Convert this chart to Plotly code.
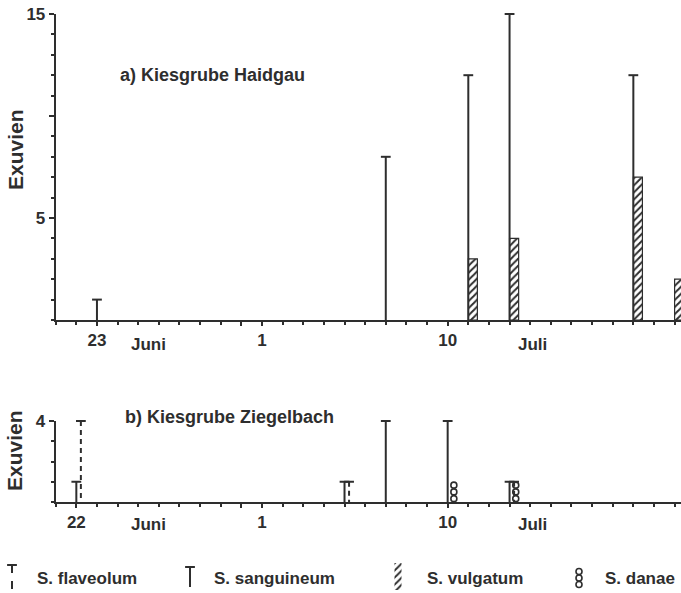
import plotly.graph_objects as go
import pandas as pd

# ---------------- data ----------------
# a) Kiesgrube Haidgau
a_sanguineum_dates = ["06-23", "07-07", "07-11", "07-13", "07-19"]
a_sanguineum_counts = [1, 8, 12, 15, 12]
a_vulgatum_dates = ["07-11", "07-13", "07-19", "07-21"]
a_vulgatum_counts = [3, 4, 7, 2]

# b) Kiesgrube Ziegelbach
b_sanguineum_dates = ["06-22", "07-05", "07-07", "07-10", "07-13"]
b_sanguineum_counts = [1, 1, 4, 4, 1]
b_flaveolum_dates = ["06-22", "07-05", "07-13"]
b_flaveolum_counts = [4, 1, 1]
b_danae_dates = ["07-10", "07-13"]
b_danae_counts = [1, 1]

species_labels = ["S. flaveolum", "S. sanguineum", "S. vulgatum", "S. danae"]
panel_titles = ["a) Kiesgrube Haidgau", "b) Kiesgrube Ziegelbach"]
y_title = "Exuvien"
month_labels = ["Juni", "Juli"]
month_label_dates = ["06-25.5", "07-14.1"]

a_xtick_dates = ["06-23", "06-30", "07-01", "07-10"]
a_xtick_text = ["23", "", "1", "10"]
b_xtick_dates = ["06-22", "06-30", "07-01", "07-10"]
b_xtick_text = ["22", "", "1", "10"]
a_ytick_vals = [5, 10, 15]
a_ytick_text = ["5", "", "15"]
b_ytick_vals = [4]
b_ytick_text = ["4"]

# ---------------- styling / layout constants ----------------
INK = "#2e2e2e"
FONT = "Liberation Sans, Arial, sans-serif"
W, H = 681, 593
TOP = 14
PLOT_H = H - TOP
X_LEFT_PX = 55.7
X_RANGE = [-10, 20.31]
FLAV_OFFSET = 0.22
DANAE_OFFSET = 0.3
BAR_W = 0.44
CIRCLES_PER_UNIT = 3


def day(s):
    m, d = s.split("-")
    return (pd.Timestamp(2000, int(m), 1) - pd.Timestamp(2000, 7, 1)).days + float(d) - 1


def fy(px):
    return (H - px) / PLOT_H


fig = go.Figure()


def stems(dates, counts, offset, dash, xa, ya):
    xs, ys = [], []
    for dt, c in zip(dates, counts):
        x = day(dt) + offset
        xs += [x, x, None]
        ys += [c, 0, None]
    fig.add_trace(go.Scatter(x=xs, y=ys, mode="lines", xaxis=xa, yaxis=ya,
                             line=dict(color=INK, width=2, dash=dash),
                             showlegend=False, hoverinfo="skip", cliponaxis=False))
    fig.add_trace(go.Scatter(x=[day(d) + offset for d in dates], y=counts, mode="markers",
                             xaxis=xa, yaxis=ya,
                             marker=dict(symbol="line-ew", size=7, color=INK,
                                         line=dict(color=INK, width=2)),
                             showlegend=False, hoverinfo="skip", cliponaxis=False))


def hatched(dates, counts, xa, ya):
    fig.add_trace(go.Bar(x=[day(d) + BAR_W / 2 for d in dates], y=counts, width=BAR_W,
                         xaxis=xa, yaxis=ya,
                         marker=dict(color="white", line=dict(color=INK, width=1.2),
                                     pattern=dict(shape="/", fgcolor=INK, bgcolor="white",
                                                  size=5, solidity=0.4)),
                         showlegend=False, hoverinfo="skip"))


def circles(dates, counts, offset, xa, ya):
    xs, ys = [], []
    for dt, c in zip(dates, counts):
        n = int(round(c * CIRCLES_PER_UNIT))
        for k in range(n):
            xs.append(day(dt) + offset)
            ys.append((k + 0.5) / CIRCLES_PER_UNIT)
    fig.add_trace(go.Scatter(x=xs, y=ys, mode="markers", xaxis=xa, yaxis=ya,
                             marker=dict(symbol="circle-open", size=6, color=INK,
                                         line=dict(color=INK, width=1.6)),
                             showlegend=False, hoverinfo="skip", cliponaxis=False))


# panel a
hatched(a_vulgatum_dates, a_vulgatum_counts, "x", "y")
stems(a_sanguineum_dates, a_sanguineum_counts, 0, "solid", "x", "y")
# panel b
stems(b_sanguineum_dates, b_sanguineum_counts, 0, "solid", "x2", "y2")
stems(b_flaveolum_dates, b_flaveolum_counts, FLAV_OFFSET, "5px,4px", "x2", "y2")
circles(b_danae_dates, b_danae_counts, DANAE_OFFSET, "x2", "y2")

# ---------------- legend (own small panel, pixel units) ----------------
LEG = dict(flav_x=12, sang_x=190, vulg_x=398, danae_x=579,
           text_x=[35, 212, 425, 603], text_y=15)
fig.add_trace(go.Scatter(x=[LEG["flav_x"]] * 2, y=[28, 3], mode="lines", xaxis="x3", yaxis="y3",
                         line=dict(color=INK, width=2, dash="8px,8px"),
                         showlegend=False, hoverinfo="skip", cliponaxis=False))
fig.add_trace(go.Scatter(x=[LEG["sang_x"]] * 2, y=[26, 6], mode="lines", xaxis="x3", yaxis="y3",
                         line=dict(color=INK, width=2),
                         showlegend=False, hoverinfo="skip", cliponaxis=False))
fig.add_trace(go.Scatter(x=[LEG["flav_x"], LEG["sang_x"]], y=[28, 26], mode="markers",
                         xaxis="x3", yaxis="y3",
                         marker=dict(symbol="line-ew", size=7, color=INK, line=dict(color=INK, width=2)),
                         showlegend=False, hoverinfo="skip", cliponaxis=False))
fig.add_trace(go.Bar(x=[LEG["vulg_x"]], y=[27], base=[3], width=7, xaxis="x3", yaxis="y3",
                     marker=dict(color="white", line=dict(color=INK, width=0),
                                 pattern=dict(shape="/", fgcolor=INK, bgcolor="white",
                                              size=5, solidity=0.4)),
                     showlegend=False, hoverinfo="skip"))
fig.add_trace(go.Scatter(x=[LEG["danae_x"]] * 3, y=[21.5, 15, 8.5], mode="markers",
                         xaxis="x3", yaxis="y3",
                         marker=dict(symbol="circle-open", size=6, color=INK,
                                     line=dict(color=INK, width=1.6)),
                         showlegend=False, hoverinfo="skip", cliponaxis=False))

annotations = []
for lbl, tx in zip(species_labels, LEG["text_x"]):
    annotations.append(dict(text=lbl, x=tx, y=LEG["text_y"], xref="x3", yref="y3",
                            xanchor="left", yanchor="middle", showarrow=False))

# panel titles
annotations.append(dict(text=panel_titles[0], x=118 / W, y=fy(75), xref="paper", yref="paper",
                        xanchor="left", yanchor="middle", showarrow=False, font=dict(size=18)))
annotations.append(dict(text=panel_titles[1], x=123 / W, y=fy(417), xref="paper", yref="paper",
                        xanchor="left", yanchor="middle", showarrow=False, font=dict(size=18)))
# y titles
for ypx in (150, 451):
    annotations.append(dict(text=y_title, x=15 / W, y=fy(ypx), xref="paper", yref="paper",
                            textangle=-90, xanchor="center", yanchor="middle", showarrow=False,
                            font=dict(size=21)))
# month labels
for lbl, dt in zip(month_labels, month_label_dates):
    annotations.append(dict(text=lbl, x=day(dt), y=fy(344), xref="x", yref="paper",
                            xanchor="center", yanchor="middle", showarrow=False))
    annotations.append(dict(text=lbl, x=day(dt), y=fy(524), xref="x2", yref="paper",
                            xanchor="center", yanchor="middle", showarrow=False))

xd = [X_LEFT_PX / W, 1]
common_x = dict(range=X_RANGE, showline=True, linecolor=INK, linewidth=2, ticks="outside",
                ticklen=4, tickwidth=1.5, tickcolor=INK, showgrid=False, zeroline=False,
                minor=dict(dtick=1, tick0=0, ticks="outside", ticklen=3, tickwidth=1.5,
                           tickcolor=INK, showgrid=False),
                domain=xd, fixedrange=True, automargin=False)
common_y = dict(showline=True, linecolor=INK, linewidth=2, ticks="outside", ticklen=5,
                tickwidth=1.5, tickcolor=INK, showgrid=False, zeroline=False,
                minor=dict(dtick=1, tick0=0, ticks="outside", ticklen=3, tickwidth=1.5,
                           tickcolor=INK, showgrid=False), fixedrange=True, automargin=False)

fig.update_layout(
    template="none",
    width=W, height=H,
    margin=dict(l=0, r=0, t=TOP, b=0, autoexpand=False),
    paper_bgcolor="white", plot_bgcolor="white",
    font=dict(family=FONT, size=17, color=INK, weight="bold"),
    barmode="overlay", showlegend=False,
    xaxis=dict(common_x, anchor="y", tickvals=[day(d) for d in a_xtick_dates], ticktext=a_xtick_text),
    yaxis=dict(common_y, anchor="x", domain=[fy(320), 1], range=[0, 15],
               tickvals=a_ytick_vals, ticktext=a_ytick_text),
    xaxis2=dict(common_x, anchor="y2", tickvals=[day(d) for d in b_xtick_dates], ticktext=b_xtick_text),
    yaxis2=dict(common_y, anchor="x2", domain=[fy(502), fy(421)], range=[0, 4],
                tickvals=b_ytick_vals, ticktext=b_ytick_text),
    xaxis3=dict(domain=[0, 1], range=[0, W], visible=False, anchor="y3", fixedrange=True,
                automargin=False),
    yaxis3=dict(domain=[0, fy(555)], range=[0, H - 555], visible=False, anchor="x3",
                fixedrange=True, automargin=False),
    annotations=annotations,
)

fig.write_html(
    "out.html",
    config={"displayModeBar": False},
    post_script="document.body.style.margin='0';document.body.style.overflow='hidden';",
)
